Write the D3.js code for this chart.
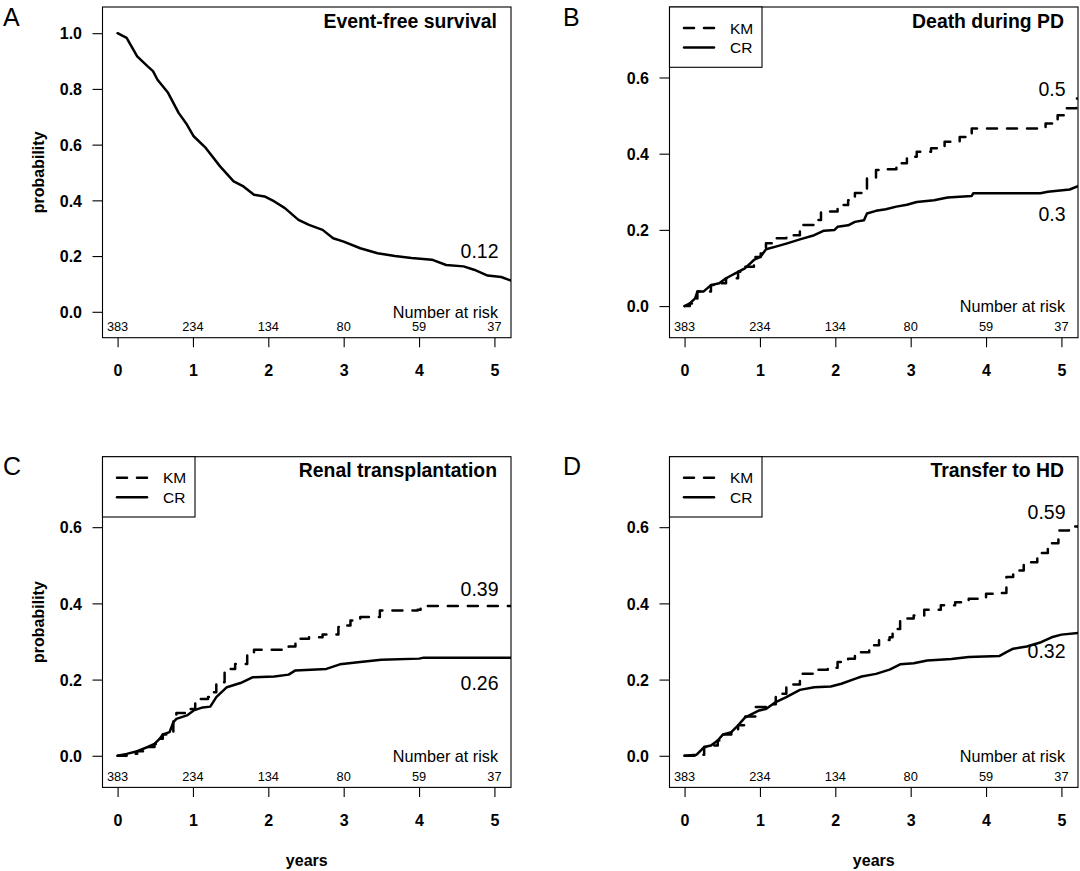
<!DOCTYPE html>
<html><head><meta charset="utf-8">
<script src="https://cdn.jsdelivr.net/npm/d3@7"></script>
<style>
body{margin:0;background:#fff}
svg{display:block}
text{font-family:"Liberation Sans",Arial,Helvetica,sans-serif;fill:#000}
</style>
</head><body>
<svg id="chart" width="1080" height="871"></svg>
<script>
// ---------- data ----------
const xTicks = [0, 1, 2, 3, 4, 5];
const riskNumbers = [383, 234, 134, 80, 59, 37];
const yTicksA = [0, 0.2, 0.4, 0.6, 0.8, 1.0];
const yTicksBCD = [0, 0.2, 0.4, 0.6];
const panelLetters = ["A", "B", "C", "D"];
const panelTitles = ["Event-free survival", "Death during PD", "Renal transplantation", "Transfer to HD"];
const legendLabels = ["KM", "CR"];

// Panel A: event-free survival
const efsTime = [0,0.12,0.26,0.40,0.47,0.53,0.67,0.81,0.92,1.01,1.17,1.36,1.54,1.67,1.81,1.95,2.08,2.22,2.40,2.54,2.72,2.86,3.0,3.22,3.45,3.68,3.9,4.17,4.36,4.59,4.73,4.91,5.09,5.22];
const efsProb = [1.0,0.983,0.917,0.881,0.864,0.833,0.786,0.714,0.672,0.63,0.588,0.522,0.468,0.45,0.42,0.414,0.396,0.372,0.33,0.312,0.294,0.264,0.252,0.228,0.21,0.20,0.193,0.187,0.168,0.163,0.151,0.130,0.125,0.112];

// Panel B: death during PD
const bCrTime = [0,0.07,0.14,0.17,0.25,0.35,0.46,0.55,0.71,0.8,0.92,1.01,1.08,1.21,1.35,1.53,1.72,1.85,1.99,2.03,2.17,2.26,2.38,2.42,2.54,2.67,2.81,2.95,3.08,3.31,3.49,3.81,3.83,4.72,4.82,5.11,5.22];
const bCrProb = [0,0.007,0.02,0.038,0.038,0.055,0.06,0.073,0.09,0.099,0.121,0.13,0.149,0.156,0.164,0.175,0.186,0.198,0.2,0.208,0.212,0.221,0.225,0.243,0.25,0.254,0.261,0.266,0.273,0.278,0.285,0.289,0.296,0.296,0.3,0.306,0.315];
const bKmTime = [0,0.07,0.14,0.17,0.25,0.35,0.46,0.55,0.71,0.8,0.92,1.01,1.08,1.17,1.26,1.35,1.53,1.57,1.72,1.81,1.94,2.03,2.17,2.26,2.38,2.42,2.54,2.67,2.81,2.95,3.08,3.27,3.45,3.65,3.81,4.72,4.79,4.95,5.07,5.2,5.22];
const bKmProb = [0,0.007,0.02,0.038,0.038,0.055,0.06,0.073,0.09,0.103,0.129,0.138,0.165,0.178,0.178,0.186,0.2,0.213,0.226,0.248,0.248,0.265,0.278,0.297,0.3,0.335,0.357,0.359,0.375,0.392,0.405,0.414,0.431,0.444,0.466,0.466,0.479,0.501,0.519,0.545,0.545];

// Panel C: renal transplantation
const cCrTime = [0,0.12,0.26,0.40,0.49,0.56,0.6,0.69,0.74,0.78,0.92,1.01,1.13,1.23,1.31,1.45,1.63,1.79,2.08,2.27,2.36,2.77,2.95,3.22,3.50,4.0,4.05,5.22];
const cCrProb = [0,0.005,0.012,0.023,0.031,0.045,0.056,0.062,0.088,0.097,0.106,0.119,0.127,0.129,0.154,0.18,0.191,0.206,0.208,0.213,0.224,0.228,0.24,0.246,0.252,0.255,0.257,0.257];
const cKmTime = [0,0.12,0.26,0.40,0.49,0.56,0.6,0.69,0.74,0.78,0.92,1.03,1.2,1.24,1.31,1.42,1.56,1.72,1.81,2.18,2.27,2.36,2.54,2.72,2.81,2.93,3.0,3.09,3.22,3.36,3.48,3.98,4.02,5.22];
const cKmProb = [0,0.005,0.012,0.023,0.031,0.045,0.056,0.062,0.093,0.112,0.123,0.149,0.154,0.167,0.193,0.228,0.241,0.268,0.278,0.281,0.287,0.307,0.311,0.318,0.318,0.338,0.342,0.355,0.364,0.364,0.381,0.383,0.393,0.393];

// Panel D: transfer to HD
const dCrTime = [0,0.16,0.26,0.35,0.44,0.51,0.62,0.71,0.8,0.99,1.08,1.21,1.35,1.53,1.72,1.94,2.08,2.26,2.35,2.54,2.72,2.86,3.04,3.22,3.54,3.77,4.18,4.27,4.36,4.54,4.73,4.87,5.0,5.22];
const dCrProb = [0,0.003,0.023,0.027,0.04,0.056,0.062,0.08,0.1,0.119,0.123,0.141,0.154,0.173,0.18,0.182,0.189,0.202,0.208,0.215,0.226,0.24,0.243,0.25,0.254,0.259,0.262,0.272,0.281,0.287,0.298,0.311,0.318,0.322];
const dKmTime = [0,0.16,0.26,0.35,0.44,0.51,0.62,0.71,0.8,0.94,1.08,1.21,1.35,1.44,1.53,1.72,1.9,2.03,2.17,2.26,2.45,2.58,2.72,2.76,2.86,3.04,3.18,3.40,3.59,3.77,4.0,4.18,4.27,4.36,4.5,4.68,4.82,4.96,5.1,5.22];
const dKmProb = [0,0.003,0.023,0.027,0.04,0.056,0.062,0.08,0.103,0.128,0.135,0.163,0.18,0.187,0.215,0.226,0.231,0.246,0.255,0.272,0.29,0.304,0.311,0.333,0.36,0.368,0.383,0.395,0.403,0.412,0.425,0.427,0.469,0.486,0.508,0.532,0.558,0.591,0.602,0.602];

// end-of-curve annotations (text, and vertical anchor in probability units)
const endLabelsA = ["0.12"], endLabelsAY = [0.219];
const endLabelsB = ["0.5", "0.3"], endLabelsBY = [0.57, 0.243];
const endLabelsC = ["0.39", "0.26"], endLabelsCY = [0.438, 0.19];
const endLabelsD = ["0.59", "0.32"], endLabelsDY = [0.639, 0.276];

// ---------- drawing ----------
const svg = d3.select("#chart");
const W = 408.5, H = 330.7;
const xDomain = [-0.2, 5.22];
const fam = '"Liberation Sans",Arial,Helvetica,sans-serif';

const zip = (t, p) => t.map((d, i) => [d, p[i]]);

const panels = [
  {left:102.5, top:7,     yDom:[-0.093,1.094], yTicks:yTicksA,  letterX:3, ylab:true,  xlab:false, legend:false,
   series:[{d:zip(efsTime,efsProb), dash:false}], labels:endLabelsA, labelsY:endLabelsAY},
  {left:669.5, top:7,     yDom:[-0.083,0.785], yTicks:yTicksBCD, letterX:563, ylab:false, xlab:false, legend:true,
   series:[{d:zip(bKmTime,bKmProb), dash:true},{d:zip(bCrTime,bCrProb), dash:false}], labels:endLabelsB, labelsY:endLabelsBY},
  {left:102.5, top:456.7, yDom:[-0.083,0.785], yTicks:yTicksBCD, letterX:3, ylab:true,  xlab:true,  legend:true,
   series:[{d:zip(cKmTime,cKmProb), dash:true},{d:zip(cCrTime,cCrProb), dash:false}], labels:endLabelsC, labelsY:endLabelsCY},
  {left:669.5, top:456.7, yDom:[-0.083,0.785], yTicks:yTicksBCD, letterX:563, ylab:false, xlab:true,  legend:true,
   series:[{d:zip(dKmTime,dKmProb), dash:true},{d:zip(dCrTime,dCrProb), dash:false}], labels:endLabelsD, labelsY:endLabelsDY}
];

panels.forEach((p, i) => {
  const g = svg.append("g");
  const x = d3.scaleLinear().domain(xDomain).range([p.left, p.left + W]);
  const y = d3.scaleLinear().domain(p.yDom).range([p.top + H, p.top]);
  const bottom = p.top + H;

  const cid = "clip" + i;
  svg.append("clipPath").attr("id", cid).append("rect")
    .attr("x", p.left).attr("y", p.top).attr("width", W).attr("height", H);

  // curves
  p.series.forEach(s => {
    const line = d3.line().x(d => x(d[0])).y(d => y(d[1]))
      .curve(s.dash ? d3.curveStepAfter : d3.curveLinear);
    g.append("path").datum(s.d)
      .attr("clip-path", `url(#${cid})`)
      .attr("d", line).attr("fill", "none").attr("stroke", "#000")
      .attr("stroke-width", 2.5).attr("stroke-linejoin", "round").attr("stroke-linecap", "round")
      .attr("stroke-dasharray", s.dash ? "10,10" : null);
  });

  // box
  g.append("rect").attr("x", p.left).attr("y", p.top).attr("width", W).attr("height", H)
    .attr("fill", "none").attr("stroke", "#000").attr("stroke-width", 1.1);

  // y axis
  const ya = g.append("g").attr("transform", `translate(${p.left},0)`)
    .call(d3.axisLeft(y).tickValues(p.yTicks).tickFormat(d3.format(".1f")).tickSize(10).tickPadding(10.5));
  ya.select(".domain").remove();
  ya.selectAll("line").attr("stroke", "#000").attr("stroke-width", 1.1);
  ya.selectAll("text").attr("font-family", fam).attr("font-size", 16).attr("font-weight", "bold").attr("dy", "0.36em");

  // x axis
  const xa = g.append("g").attr("transform", `translate(0,${bottom})`)
    .call(d3.axisBottom(x).tickValues(xTicks).tickFormat(d3.format("d")).tickSize(9.6));
  xa.select(".domain").remove();
  xa.selectAll("line").attr("stroke", "#000").attr("stroke-width", 1.1);
  xa.selectAll("text").attr("font-family", fam).attr("font-size", 16).attr("font-weight", "bold")
    .attr("y", 32.4).attr("dy", "0.36em");

  // number at risk
  g.selectAll(".risk").data(riskNumbers).enter().append("text")
    .attr("x", (d, k) => x(xTicks[k])).attr("y", bottom - 11).attr("dy", "0.36em")
    .attr("text-anchor", "middle").attr("font-size", 12.8).text(d => d);
  g.append("text").attr("x", p.left + W - 13).attr("y", y(0)).attr("dy", "0.36em")
    .attr("text-anchor", "end").attr("font-size", 16.2).text("Number at risk");

  // title
  g.append("text").attr("x", p.left + W - 14).attr("y", p.top + 20.5)
    .attr("text-anchor", "end").attr("font-size", 19.4).attr("font-weight", "bold").text(panelTitles[i]);

  // end labels
  p.labels.forEach((t, k) => {
    g.append("text").attr("x", p.left + W - 12.5).attr("y", y(p.labelsY[k])).attr("dy", "0.36em")
      .attr("text-anchor", "end").attr("font-size", 19.5).text(t);
  });

  // panel letter
  g.append("text").attr("x", p.letterX).attr("y", p.top + 18.5)
    .attr("font-size", 25).text(panelLetters[i]);

  // axis titles
  if (p.ylab) {
    g.append("text").attr("transform", `translate(38.3,${p.top + H / 2}) rotate(-90)`)
      .attr("dy", "0.36em").attr("text-anchor", "middle").attr("font-size", 16).attr("font-weight", "bold")
      .text("probability");
  }
  if (p.xlab) {
    g.append("text").attr("x", p.left + W / 2).attr("y", bottom + 73.3).attr("dy", "0.36em")
      .attr("text-anchor", "middle").attr("font-size", 16).attr("font-weight", "bold").text("years");
  }

  // legend
  if (p.legend) {
    const lg = g.append("g");
    lg.append("rect").attr("x", p.left).attr("y", p.top).attr("width", 92.5).attr("height", 60.3)
      .attr("fill", "#fff").attr("stroke", "#000").attr("stroke-width", 1.1);
    legendLabels.forEach((lab, k) => {
      const ly = p.top + (k === 0 ? 21 : 40.6);
      lg.append("line").attr("x1", p.left + 14.5).attr("x2", p.left + 44.5).attr("y1", ly).attr("y2", ly)
        .attr("stroke", "#000").attr("stroke-width", 2.5).attr("stroke-linecap", "round")
        .attr("stroke-dasharray", k === 0 ? "10,10" : null);
      lg.append("text").attr("x", p.left + 60.5).attr("y", ly).attr("dy", "0.36em")
        .attr("font-size", 15.5).text(lab);
    });
  }
});
</script>
</body></html>
